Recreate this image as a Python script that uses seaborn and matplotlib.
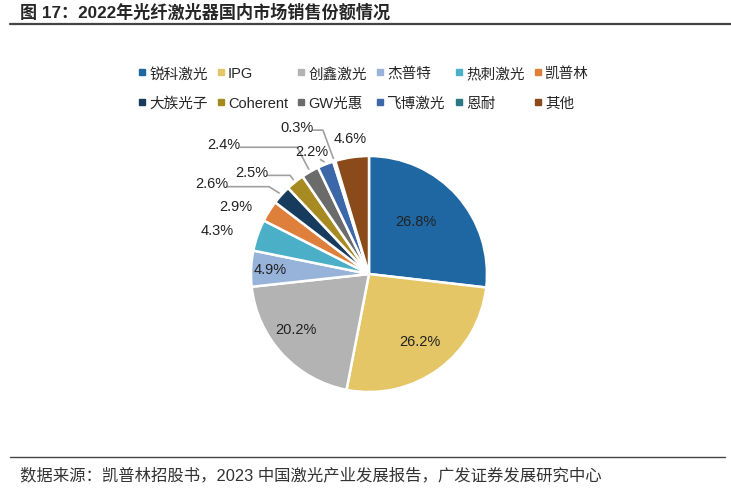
import matplotlib.pyplot as plt
import numpy as np
import seaborn as sns
from matplotlib.lines import Line2D

# ── Data ─────────────────────────────────────────────────────────────
companies = ["锐科激光", "IPG", "创鑫激光", "杰普特", "热刺激光", "凯普林",
             "大族光子", "Coherent", "GW光惠", "飞博激光", "恩耐", "其他"]
shares = [26.8, 26.2, 20.2, 4.9, 4.3, 2.9, 2.6, 2.5, 2.4, 2.2, 0.3, 4.6]
colors = ["#1F67A3", "#E4C666", "#B3B3B3", "#97B3D9", "#4AAFC7", "#DE7F3B",
          "#163B5C", "#A88A22", "#6B6B6B", "#3C67A8", "#2B7785", "#8A4A1A"]

# label placement: (radius, angle in degrees) in pie units
label_pos = [(0.60, 48), (0.71, -53), (0.77, -143), (0.84, 177), (1.34, 164),
             (1.27, 153), (1.54, 150), (1.32, 139), (1.65, 138), (1.15, 115),
             (1.39, 116), (1.16, 98)]
# leader line elbow offset (None = no leader line)
elbow = [None, None, None, None, None, None, 0.09, 0.03, 0.10, 0.0, 0.09, None]

sns.set_theme(style="white")
plt.rcParams["font.family"] = ["Liberation Sans", "Noto Sans CJK SC", "DejaVu Sans"]
pal = sns.color_palette(colors)

fig = plt.figure(figsize=(7.31, 4.89), dpi=100)
W, H = 731, 489
cx, cy, R = 369, 275, 118
ax = fig.add_axes([(cx - R) / W, (H - cy - R) / H, 2 * R / W, 2 * R / H])

wedges, _ = ax.pie(shares, colors=pal, startangle=90, counterclock=False,
                   radius=1, wedgeprops=dict(edgecolor="white", linewidth=1.8))
ax.set_xlim(-1, 1)
ax.set_ylim(-1, 1)
ax.set_aspect("equal")
ax.axis("off")

for w, v, (r, a), el in zip(wedges, shares, label_pos, elbow):
    mid = np.deg2rad((w.theta1 + w.theta2) / 2)
    tx, ty = r * np.cos(np.deg2rad(a)), r * np.sin(np.deg2rad(a))
    ax.text(tx, ty, f"{v:.1f}%", ha="center", va="center", fontsize=10.5,
            color="#222222", clip_on=False)
    if el is None:
        continue
    ex, ey = 1.02 * np.cos(mid), 1.02 * np.sin(mid)
    if el == 0.0:
        xs, ys = [tx + 0.07, ex], [ty - 0.07, ey]
    else:
        ly = ty - 0.03
        xs, ys = [tx + 0.13, ex - el, ex], [ly, ly, ey]
    ax.plot(xs, ys, color="#A0A0A0", lw=1.2, clip_on=False, solid_capstyle="butt")

# legend, row-major order in 6 columns
handles = [Line2D([], [], marker="s", ls="none", markersize=4,
                  markerfacecolor=c, markeredgecolor=c) for c in pal]
order = [i + 6 * j for i in range(6) for j in range(2)]
fig.legend([handles[i] for i in order], [companies[i] for i in order],
           ncol=6, loc="center", bbox_to_anchor=(0.497, 0.818), frameon=False,
           handletextpad=0.2, columnspacing=0.6, labelspacing=1.05,
           handlelength=0.6, prop={"family": ["Liberation Sans", "Noto Sans CJK SC"], "size": 10.5})

# title and footer
fig.text(20 / W, 1 - 12 / H, "图 17：2022年光纤激光器国内市场销售份额情况",
         ha="left", va="center", fontsize=12.3, fontweight="bold",
         family=["Liberation Sans", "Noto Sans CJK SC"])
fig.add_artist(Line2D([10 / W, 1], [1 - 25 / H, 1 - 25 / H], color="#444444", lw=1.6))
fig.add_artist(Line2D([10 / W, 725 / W], [1 - 458 / H, 1 - 458 / H], color="#444444", lw=1.0))
fig.text(20 / W, 1 - 475 / H, "数据来源：凯普林招股书，2023 中国激光产业发展报告，广发证券发展研究中心",
         ha="left", va="center", fontsize=11.8, color="#333333",
         family=["Liberation Sans", "Noto Sans CJK SC"])

fig.savefig("out.png", dpi=100)
